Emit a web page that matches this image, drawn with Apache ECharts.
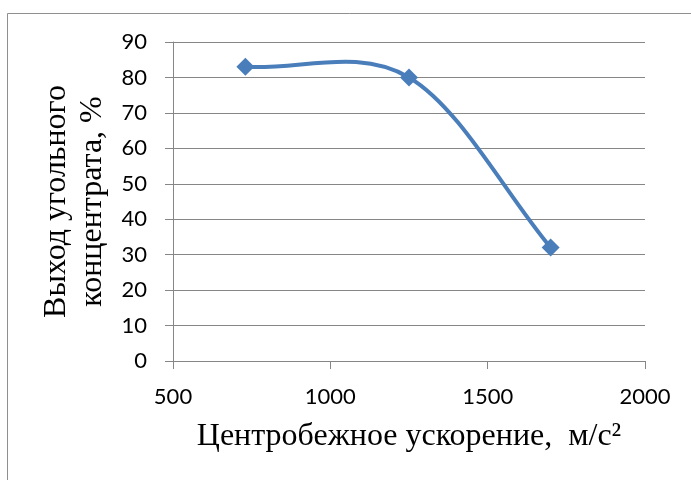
<!DOCTYPE html>
<html>
<head>
<meta charset="utf-8">
<script src="https://cdn.jsdelivr.net/npm/echarts@6/dist/echarts.min.js"></script>
<style>
html,body{margin:0;padding:0;background:#fff;}
#chart{width:691px;height:480px;}
</style>
</head>
<body>
<div id="chart"></div>
<script>
// Data
var xValues = [730, 1250, 1700];
var yValues = [83, 80, 32];
var xAxisTitle = 'Центробежное ускорение,  м/с²';
var yAxisTitle = 'Выход угольного\nконцентрата, %';

var chart = echarts.init(document.getElementById('chart'), null, {renderer: 'canvas'});
var gridColor = '#868686';
var lineColor = '#4a7ebb';
var points = xValues.map(function (x, i) { return [x, yValues[i]]; });

// Excel-style smoothed segment between point i and i+1 (in pixel space via api.coord)
function renderSegment(params, api) {
  var i = params.dataIndex;
  var n = points.length;
  if (i >= n - 1) return null;
  var P = points.map(function (p) { return api.coord(p); });
  var p0 = P[i], p1 = P[i + 1];
  var t0, t1;
  if (i === 0) {
    t0 = [(p1[0] - p0[0]) / 3, (p1[1] - p0[1]) / 3];
  } else {
    t0 = [(P[i + 1][0] - P[i - 1][0]) / 6, (P[i + 1][1] - P[i - 1][1]) / 6];
  }
  if (i + 1 === n - 1) {
    t1 = [(p1[0] - p0[0]) / 3, (p1[1] - p0[1]) / 3];
  } else {
    t1 = [(P[i + 2][0] - P[i][0]) / 6, (P[i + 2][1] - P[i][1]) / 6];
  }
  return {
    type: 'bezierCurve',
    shape: {
      x1: p0[0], y1: p0[1],
      cpx1: p0[0] + t0[0], cpy1: p0[1] + t0[1],
      cpx2: p1[0] - t1[0], cpy2: p1[1] - t1[1],
      x2: p1[0], y2: p1[1]
    },
    style: {fill: null, stroke: lineColor, lineWidth: 4, lineCap: 'round'}
  };
}

chart.setOption({
  animation: false,
  backgroundColor: '#ffffff',
  graphic: [{
    type: 'rect',
    silent: true,
    shape: {x: 7.5, y: 13.5, width: 800, height: 600},
    style: {fill: 'none', stroke: '#8f8f8f', lineWidth: 1}
  }],
  grid: {left: 173, right: 46, top: 42, bottom: 119, containLabel: false},
  xAxis: {
    type: 'value',
    min: 500, max: 2000, interval: 500,
    name: xAxisTitle,
    nameLocation: 'middle',
    nameGap: 60,
    nameTextStyle: {fontFamily: 'Liberation Serif', fontSize: 32, color: '#000'},
    axisLine: {show: true, onZero: false, lineStyle: {color: gridColor, width: 1}},
    axisTick: {show: true, length: 8, lineStyle: {color: gridColor}},
    axisLabel: {fontFamily: 'Lato', fontSize: 22, color: '#000', margin: 25,
      formatter: function (v) { return String(v); }},
    splitLine: {show: false}
  },
  yAxis: {
    type: 'value',
    min: 0, max: 90, interval: 10,
    name: yAxisTitle,
    nameLocation: 'middle',
    nameGap: 62,
    nameRotate: 90,
    nameTextStyle: {fontFamily: 'Liberation Serif', fontSize: 32, color: '#000', lineHeight: 36, align: 'center'},
    axisLine: {show: true, lineStyle: {color: gridColor, width: 1}},
    axisTick: {show: true, length: 8, lineStyle: {color: gridColor}},
    axisLabel: {fontFamily: 'Lato', fontSize: 22, color: '#000', margin: 26,
      formatter: function (v) { return String(v); }},
    splitLine: {show: true, lineStyle: {color: gridColor, width: 1}}
  },
  series: [{
    type: 'custom',
    renderItem: renderSegment,
    data: points,
    encode: {x: 0, y: 1},
    z: 2
  }, {
    type: 'scatter',
    data: points,
    symbol: 'diamond',
    symbolSize: 18,
    itemStyle: {color: lineColor, opacity: 1},
    z: 3
  }]
});
</script>
</body>
</html>
